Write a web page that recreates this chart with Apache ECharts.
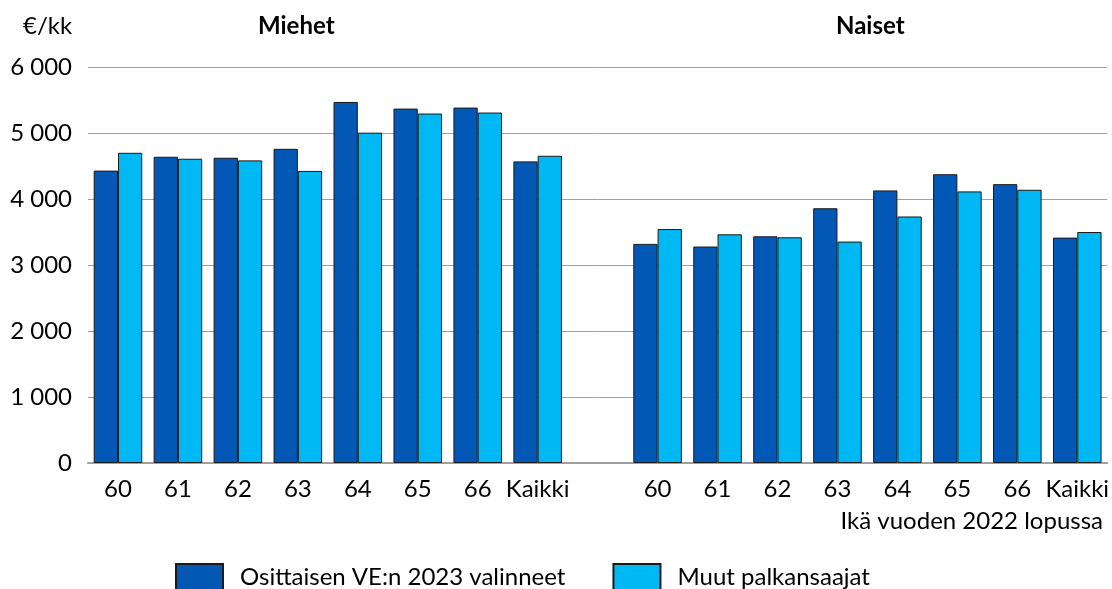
<!DOCTYPE html>
<html>
<head>
<meta charset="utf-8">
<script src="https://cdn.jsdelivr.net/npm/echarts@6/dist/echarts.min.js"></script>
<style>
  html, body { margin: 0; padding: 0; background: #fff; }
  #chart { width: 1112px; height: 589px; }
</style>
</head>
<body>
<div id="chart"></div>
<script>
// ikäryhmät, sama jako miehille ja naisille
const ages = ['60', '61', '62', '63', '64', '65', '66', 'Kaikki'];

// €/kk, luettu kuvasta
const menPartial = [4430, 4640, 4625, 4760, 5470, 5370, 5385, 4570];
const menOther   = [4700, 4610, 4585, 4425, 5005, 5295, 5310, 4655];
const womenPartial = [3320, 3280, 3435, 3860, 4130, 4375, 4225, 3415];
const womenOther   = [3545, 3465, 3420, 3355, 3735, 4115, 4140, 3500];

const yTicks = [0, 1000, 2000, 3000, 4000, 5000, 6000];

const seriesNames = ['Osittaisen VE:n 2023 valinneet', 'Muut palkansaajat'];
const colors = ['#0358b6', '#00b9f4'];

// tyhjä väli ryhmien välissä
const categories = ages.concat([''], ages);
const partial = menPartial.concat(['-'], womenPartial);
const other = menOther.concat(['-'], womenOther);

const font = 'Lato, "Open Sans", sans-serif';
const fs = 24;

const chart = echarts.init(document.getElementById('chart'), null, { renderer: 'canvas' });

chart.setOption({
  animation: false,
  textStyle: { fontFamily: font },
  grid: { left: 88, right: 1, top: 67, bottom: 126, containLabel: false },
  title: [
    { text: '€/kk', left: 18, top: 9, textStyle: { fontSize: fs, fontWeight: 'normal', color: '#000', fontFamily: font } },
    { text: 'Miehet', left: 253, top: 9, textStyle: { fontSize: fs, fontWeight: 'bold', color: '#000', fontFamily: font } },
    { text: 'Naiset', left: 831, top: 9, textStyle: { fontSize: fs, fontWeight: 'bold', color: '#000', fontFamily: font } }
  ],
  graphic: [{
    type: 'text',
    right: 9,
    top: 509,
    style: { text: 'Ikä vuoden 2022 lopussa', fontSize: fs, fill: '#000', fontFamily: font }
  }],
  legend: {
    left: 170,
    top: 558,
    itemWidth: 47,
    itemHeight: 27,
    itemGap: 47,
    icon: 'rect',
    textStyle: { fontSize: fs, color: '#000', fontFamily: font, padding: [0, 0, 0, 12] },
    data: seriesNames
  },
  xAxis: {
    type: 'category',
    data: categories,
    axisTick: { show: false },
    axisLine: { lineStyle: { color: '#a0a0a0', width: 2 } },
    axisLabel: { color: '#000', fontSize: fs, margin: 14, interval: 0, fontFamily: font }
  },
  yAxis: {
    type: 'value',
    min: yTicks[0],
    max: yTicks[yTicks.length - 1],
    interval: 1000,
    axisLine: { show: false },
    axisTick: { show: false },
    splitLine: { lineStyle: { color: '#a0a0a0', width: 1 } },
    axisLabel: {
      color: '#000',
      fontSize: fs,
      margin: 16,
      fontFamily: font,
      formatter: v => String(v).replace(/\B(?=(\d{3})+(?!\d))/g, ' ')
    }
  },
  series: [
    {
      name: seriesNames[0],
      type: 'bar',
      data: partial,
      barGap: '0%',
      barCategoryGap: '19%',
      itemStyle: { color: colors[0], borderColor: '#1a1a1a', borderWidth: 1 }
    },
    {
      name: seriesNames[1],
      type: 'bar',
      data: other,
      barGap: '0%',
      barCategoryGap: '19%',
      itemStyle: { color: colors[1], borderColor: '#1a1a1a', borderWidth: 1 }
    }
  ]
});
</script>
</body>
</html>
